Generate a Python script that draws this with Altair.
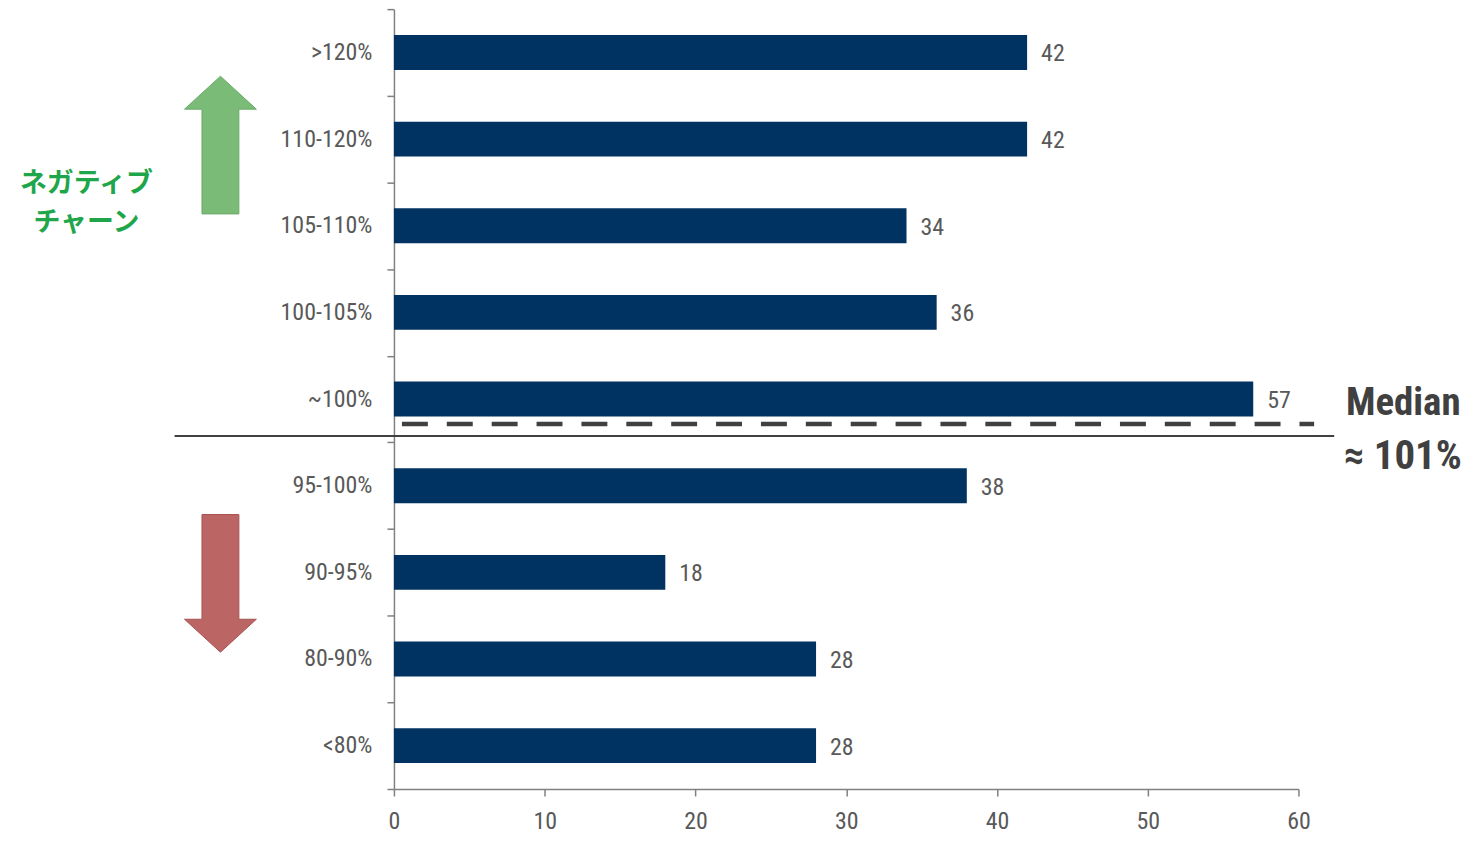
import altair as alt
import pandas as pd

# ---- data ----
categories = [">120%", "110-120%", "105-110%", "100-105%", "~100%",
              "95-100%", "90-95%", "80-90%", "<80%"]
counts = [42, 42, 34, 36, 57, 38, 18, 28, 28]
x_ticks = [0, 10, 20, 30, 40, 50, 60]
median_lines = ["Median", "≈ 101%"]
jp_lines = ["ネガティブ", "チャーン"]

FONT = "Liberation Sans Narrow, Arial Narrow, Roboto Condensed, Liberation Sans, sans-serif"
GRAY = "#595959"
DARK = "#404040"

df = pd.DataFrame({"cat": categories, "n": counts})

y_enc = alt.Y(
    "cat:N",
    sort=categories,
    scale=alt.Scale(domain=categories, paddingInner=0, paddingOuter=0),
    axis=alt.Axis(
        title=None, tickBand="extent", tickSize=7, tickColor="#808080",
        domainColor="#808080", domainWidth=1.5, tickWidth=1.5,
        labelFont=FONT, labelFontSize=24, labelColor=GRAY, labelPadding=15,
    ),
)
x_enc = alt.X(
    "n:Q",
    scale=alt.Scale(domain=[0, 60], nice=False),
    axis=alt.Axis(
        title=None, values=x_ticks, grid=False, tickSize=7, tickColor="#808080",
        domainColor="#808080", domainWidth=1.5, tickWidth=1.5, labelFlush=False,
        labelFont=FONT, labelFontSize=24, labelColor=GRAY, labelPadding=14,
    ),
)

bars = alt.Chart(df).mark_bar(size=35, color="#003262").encode(x=x_enc, y=y_enc)
values = alt.Chart(df).mark_text(
    align="left", baseline="middle", dx=14, dy=2, font=FONT, fontSize=24, color=GRAY
).encode(x="n:Q", y=alt.Y("cat:N", sort=categories), text="n:Q")

# reference lines at the median
solid_df = pd.DataFrame({"cat": ["~100%"], "a": [-14.55], "b": [62.37]})
solid = alt.Chart(solid_df).mark_rule(color=DARK, strokeWidth=2, yOffset=37).encode(
    x="a:Q", x2="b:Q", y=alt.Y("cat:N", sort=categories))
dash_df = pd.DataFrame({"cat": ["~100%"], "a": [0.53], "b": [61.04]})
dashed = alt.Chart(dash_df).mark_rule(
    color=DARK, strokeWidth=4.5, strokeDash=[26, 19], yOffset=25
).encode(x="a:Q", x2="b:Q", y=alt.Y("cat:N", sort=categories))

med1 = alt.Chart(pd.DataFrame({"cat": ["~100%"], "x": [63.15], "t": [median_lines[0]]})).mark_text(
    align="left", baseline="alphabetic", font=FONT, fontWeight="bold", fontSize=39,
    color=DARK, yOffset=16
).encode(x="x:Q", y=alt.Y("cat:N", sort=categories), text="t:N")
med2 = alt.Chart(pd.DataFrame({"cat": ["~100%"], "x": [63.0], "t": [median_lines[1]]})).mark_text(
    align="left", baseline="alphabetic", font=FONT, fontWeight="bold", fontSize=41,
    color=DARK, yOffset=70
).encode(x="x:Q", y=alt.Y("cat:N", sort=categories), text="t:N")

# arrows
UP = "M0,-1 L0.522,-0.522 L0.268,-0.522 L0.268,1 L-0.268,1 L-0.268,-0.522 L-0.522,-0.522 Z"
DOWN = "M0,1 L0.522,0.522 L0.268,0.522 L0.268,-1 L-0.268,-1 L-0.268,0.522 L-0.522,0.522 Z"
up = alt.Chart(pd.DataFrame({"cat": ["110-120%"], "x": [-11.51]})).mark_point(
    shape=UP, size=19044, filled=True, fill="#7abb78", stroke="#6aaa68", strokeWidth=1,
    opacity=1, yOffset=6
).encode(x="x:Q", y=alt.Y("cat:N", sort=categories))
down = alt.Chart(pd.DataFrame({"cat": ["90-95%"], "x": [-11.51]})).mark_point(
    shape=DOWN, size=19044, filled=True, fill="#bb6565", stroke="#a85252", strokeWidth=1,
    opacity=1, yOffset=11
).encode(x="x:Q", y=alt.Y("cat:N", sort=categories))

jp1 = alt.Chart(pd.DataFrame({"cat": ["110-120%"], "x": [-20.4], "t": [jp_lines[0]]})).mark_text(
    align="center", baseline="middle", font="Noto Sans CJK JP", fontWeight="bold",
    fontSize=27, color="#1fa64a", yOffset=45
).encode(x="x:Q", y=alt.Y("cat:N", sort=categories), text="t:N")
jp2 = alt.Chart(pd.DataFrame({"cat": ["110-120%"], "x": [-20.4], "t": [jp_lines[1]]})).mark_text(
    align="center", baseline="middle", font="Noto Sans CJK JP", fontWeight="bold",
    fontSize=27, color="#1fa64a", yOffset=84
).encode(x="x:Q", y=alt.Y("cat:N", sort=categories), text="t:N")

chart = alt.layer(bars, values, solid, dashed, med1, med2, up, down, jp1, jp2).properties(
    width=907, height=782,
    autosize=alt.AutoSizeParams(type="none"),
    padding={"left": 387, "top": 0, "right": 170, "bottom": 46},
).configure_view(strokeWidth=0)

chart.save("out.html", embed_options={"renderer": "svg", "actions": False})
